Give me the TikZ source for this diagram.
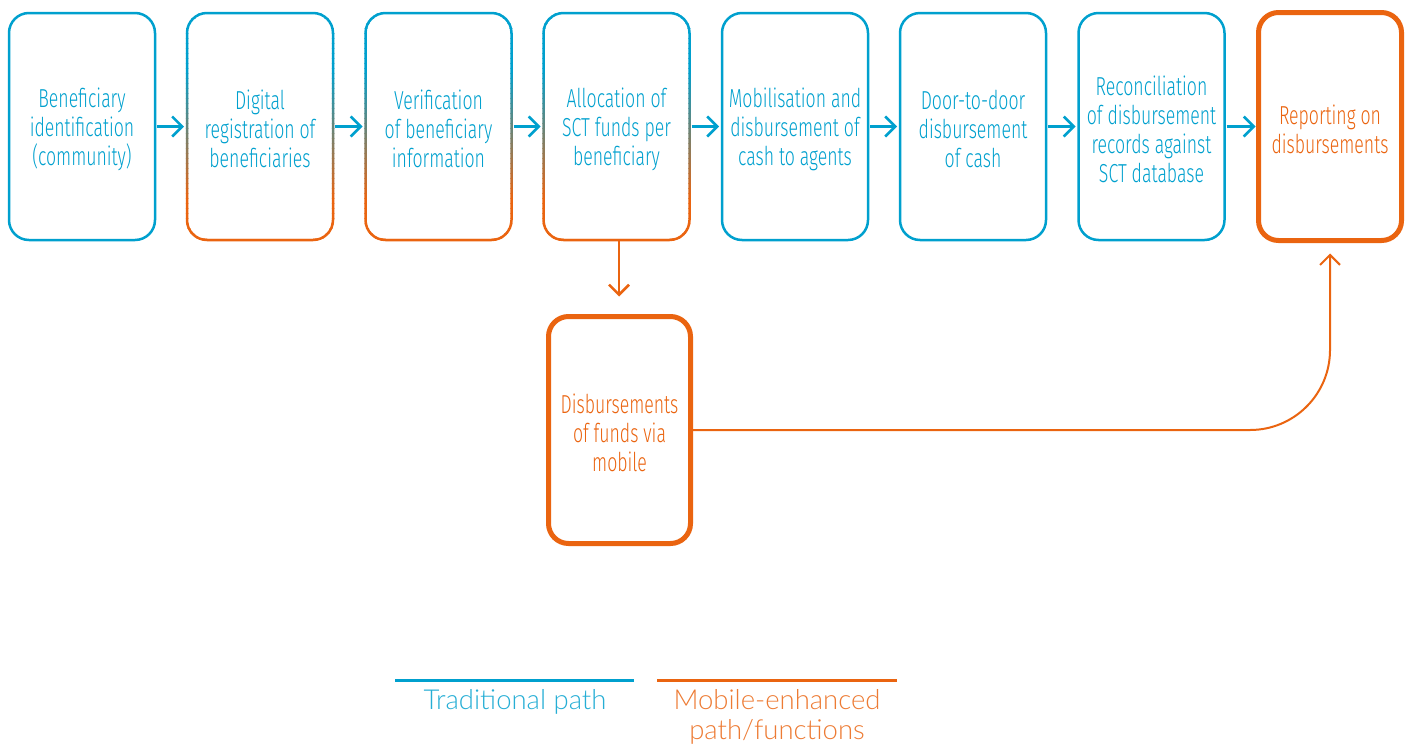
\documentclass[tikz,border=0pt]{standalone}
\usepackage{fontspec}
\usetikzlibrary{arrows.meta}
\newfontfamily\boxfont{Fira Sans Light}[FakeStretch=0.68]
\newfontfamily\legfont{Lato Light}
\definecolor{tb}{RGB}{0,160,206}
\definecolor{orx}{RGB}{234,100,16}
\tikzset{
  stepbox/.style={rectangle, rounded corners=20pt, minimum width=146pt, minimum height=227pt,
    inner sep=0pt, outer sep=0pt},
  boxtext/.style={align=center, text=tb, inner sep=0pt, font=\boxfont\fontsize{26}{29}\selectfont},
  otext/.style={boxtext, text=orx},
  bluebox/.style={stepbox, draw=tb, line width=2.5pt},
  gradbox/.style={stepbox},
  mobbox/.style={stepbox, draw=orx, line width=5pt, minimum width=143pt, minimum height=228pt},
  barrow/.style={draw=tb, line width=2.5pt, -{Straight Barb[length=10pt,width=20pt]}, shorten <=2pt, shorten >=3pt},
  oarrow/.style={draw=orx, line width=2.5pt, -{Straight Barb[length=10pt,width=20pt]}},
  legtext/.style={font=\legfont\fontsize{27.5}{29.5}\selectfont, align=center}
}
\begin{document}
\begin{tikzpicture}[x=1pt,y=-1pt]
\useasboundingbox (0,0) rectangle (1410,745);
\node[bluebox] (b1) at (82,126.5) {};
\node[gradbox] (b2) at (260,126.5) {};
\node[gradbox] (b3) at (438.5,126.5) {};
\node[gradbox] (b4) at (616.5,126.5) {};
\node[bluebox] (b5) at (795,126.5) {};
\node[bluebox] (b6) at (973,126.5) {};
\node[bluebox] (b7) at (1151.5,126.5) {};
\node[mobbox] (b8) at (1330,126.5) {};
\node[mobbox, minimum width=142pt, minimum height=227pt] (mob) at (619.5,430) {};
\node[boxtext] (t1) at ([yshift=-2.5pt]b1.center) {Beneficiary\\identification\\(community)};
\node[boxtext] (t2) at ([yshift=-2.5pt]b2.center) {Digital\\registration of\\beneficiaries};
\node[boxtext] (t3) at ([yshift=-2.5pt]b3.center) {Verification\\of beneficiary\\information};
\node[boxtext] (t4) at ([yshift=-2.5pt]b4.center) {Allocation of\\SCT funds per\\beneficiary};
\node[boxtext] (t5) at ([yshift=-2.5pt]b5.center) {Mobilisation and\\disbursement of\\cash to agents};
\node[boxtext] (t6) at ([yshift=-2.5pt]b6.center) {Door-to-door\\disbursement\\of cash};
\node[boxtext] (t7) at ([yshift=-2.5pt]b7.center) {Reconciliation\\of disbursement\\records against\\SCT database};
\node[otext] (t8) at ([yshift=-2.5pt]b8.center) {Reporting on\\disbursements};
\node[otext] (tm) at ([yshift=-2.5pt]mob.center) {Disbursements\\of funds via\\mobile};
% gradient borders
\foreach \k in {0,...,47}{
  \pgfmathsetmacro\ya{8+\k*5}
  \pgfmathsetmacro\t{min(100,max(0,(\ya+2.5-70)/130*100))}
  \begin{scope}
    \clip (170,\ya) rectangle (700,\ya+5.4);
    \foreach \b in {b2,b3,b4}{
      \draw[draw=orx!\t!tb, line width=2.5pt, rounded corners=20pt] (\b.south west) rectangle (\b.north east);
    }
  \end{scope}
}
\foreach \a/\b in {b1/b2,b2/b3,b3/b4,b4/b5,b5/b6,b6/b7,b7/b8}{
  \draw[barrow] (\a.east) -- (\b.west);
}
\draw[oarrow, shorten >=20pt] ([xshift=2.5pt]b4.south) -- ([xshift=2.5pt]b4.south |- mob.north);
\draw[oarrow, line width=2pt, rounded corners=80pt, shorten >=13pt] (mob.east) -| (b8.south);
% legend
\coordinate (l1a) at (395,680); \coordinate (l1b) at (634,680);
\coordinate (l2a) at (657,680); \coordinate (l2b) at (897,680);
\draw[tb, line width=3pt] (l1a) -- (l1b);
\draw[orx, line width=3pt] (l2a) -- (l2b);
\node[legtext, text=tb!85!white, anchor=north] (lt1) at (515,686) {Traditional path};
\node[legtext, text=orx!85!white, anchor=north] (lt2) at (777,686) {Mobile-enhanced\\path/functions};
\end{tikzpicture}
\end{document}
